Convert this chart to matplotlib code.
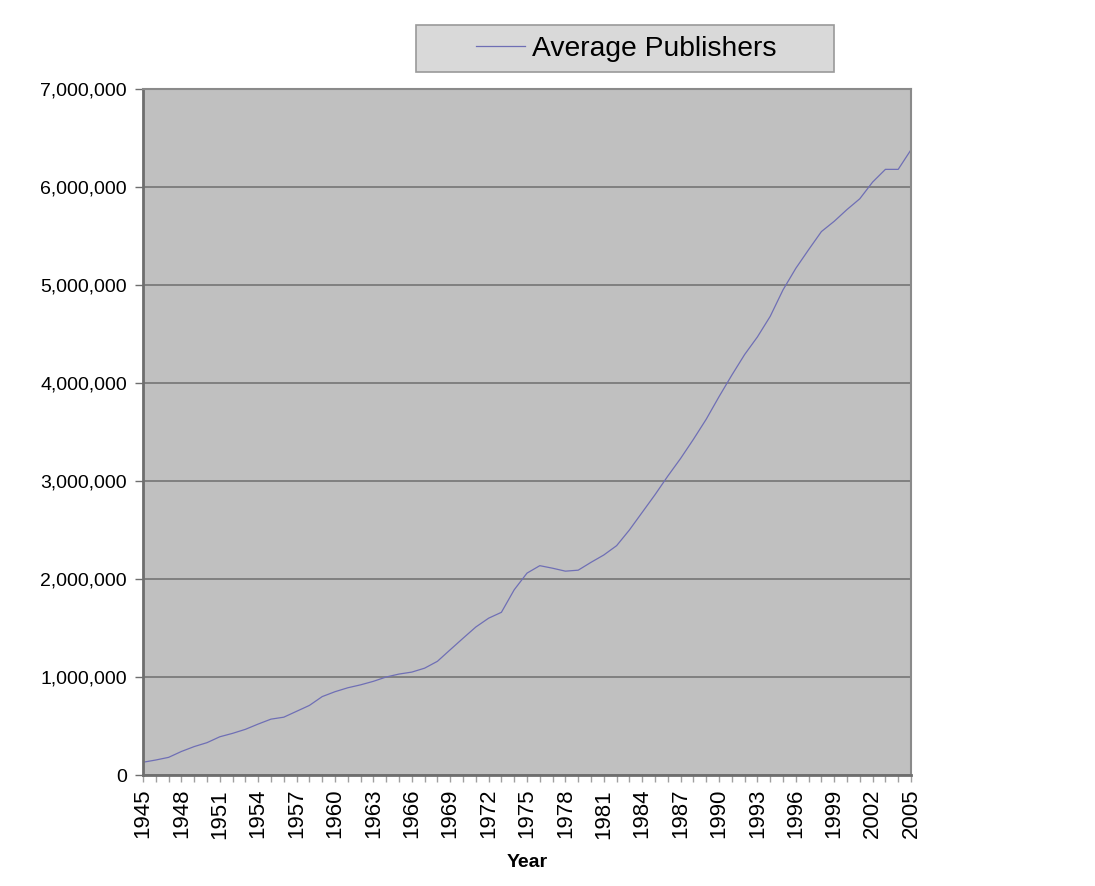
import matplotlib
matplotlib.use("Agg")
import matplotlib.pyplot as plt
from matplotlib.ticker import FuncFormatter, MultipleLocator
from matplotlib.patches import Rectangle

plt.rcParams['font.family'] = ['Liberation Sans', 'DejaVu Sans']

# one value per year, 1945..2005
years = list(range(1945, 2006))
publishers = [
    130000, 153000, 180000, 240000, 290000, 330000, 390000, 425000, 466000, 520000,
    570000, 590000, 650000, 710000, 800000, 850000, 890000, 920000, 956000, 1000000,
    1030000, 1050000, 1090000, 1160000, 1278000, 1395000, 1510000, 1600000, 1660000, 1890000,
    2060000, 2136000, 2110000, 2080000, 2090000, 2170000, 2245000, 2340000, 2500000, 2680000,
    2860000, 3050000, 3230000, 3425000, 3630000, 3860000, 4080000, 4290000, 4470000, 4680000,
    4950000, 5170000, 5360000, 5545000, 5650000, 5770000, 5880000, 6050000, 6180000, 6180000,
    6380000,
]
label_years = years[::3]
series_name = "Average Publishers"

fig = plt.figure(figsize=(10.95, 8.86), dpi=100)
ax = fig.add_axes([143 / 1095, 1 - 775 / 886, 768 / 1095, 686 / 886])
ax.set_facecolor('#c0c0c0')

ax.plot(years, publishers, color='#6f6fb5', lw=0.9, label=series_name)

ax.set_xlim(1945, 2005)
ax.set_ylim(0, 7000000)
ax.yaxis.set_major_locator(MultipleLocator(1000000))
ax.yaxis.set_major_formatter(FuncFormatter(lambda v, p: f'{v:,.0f}'))
ax.set_xticks(years, minor=True)
ax.set_xticks(label_years)
ax.set_xticklabels([str(y) for y in label_years], rotation=90)

ax.grid(axis='y', color='#6e6e6e', lw=1.1)
ax.set_axisbelow(True)
ax.tick_params(axis='y', direction='out', length=6, width=1, color='#6e6e6e',
               labelsize=14, pad=5.5)
ax.tick_params(axis='x', which='both', direction='out', length=5, width=1,
               color='#a0a0a0', labelsize=16, pad=5)

for side in ['left', 'bottom']:
    ax.spines[side].set_color('#6e6e6e')
    ax.spines[side].set_linewidth(2)
for side in ['right', 'top']:
    ax.spines[side].set_color('#8a8a8a')
    ax.spines[side].set_linewidth(1.5)

ax.set_xlabel("Year", fontsize=14, fontweight='bold', labelpad=11)

# legend box drawn by hand so its size matches the reference
fig.patches.append(Rectangle((416 / 1095, 1 - 72 / 886), 418 / 1095, 47 / 886,
                             transform=fig.transFigure, facecolor='#d9d9d9',
                             edgecolor='#9a9a9a', lw=1.2))
fig.legend(loc='center', bbox_to_anchor=(626 / 1095, 1 - 49 / 886), frameon=False,
           fontsize=20.3, handlelength=1.75, handletextpad=0.25)

fig.savefig("out.png", dpi=100)
